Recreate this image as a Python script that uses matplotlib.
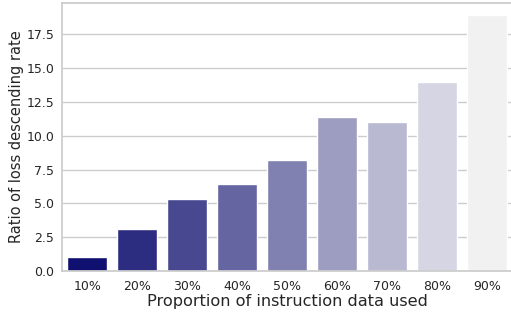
import matplotlib
matplotlib.use("Agg")
import matplotlib.pyplot as plt
import seaborn as sns

categories = ["10%", "20%", "30%", "40%", "50%", "60%", "70%", "80%", "90%"]
values = [1.06, 3.13, 5.32, 6.43, 8.23, 11.37, 10.98, 13.94, 18.88]

sns.set_theme(style="whitegrid")
plt.rcParams['font.family'] = ['DejaVu Sans']

fig = plt.figure(figsize=(5.11, 3.18), dpi=100)
ax = fig.add_axes([0.122, 0.147, 0.88, 0.845])
palette = sns.light_palette("navy", n_colors=len(categories), reverse=True)
sns.barplot(x=categories, y=values, hue=categories, palette=palette, legend=False, ax=ax)
ax.set_xlabel("Proportion of instruction data used", fontsize=11.6)
ax.set_ylabel("Ratio of loss descending rate", fontsize=10.5)
ax.tick_params(axis='both', labelsize=9.0, colors='#262626', length=0)
ax.tick_params(axis='x', pad=6.0)
ax.tick_params(axis='y', pad=5.8)
ax.set_yticks([0, 2.5, 5, 7.5, 10, 12.5, 15, 17.5])
ax.xaxis.labelpad = 1
ax.yaxis.labelpad = 2
fig.savefig("out.png", dpi=100)
